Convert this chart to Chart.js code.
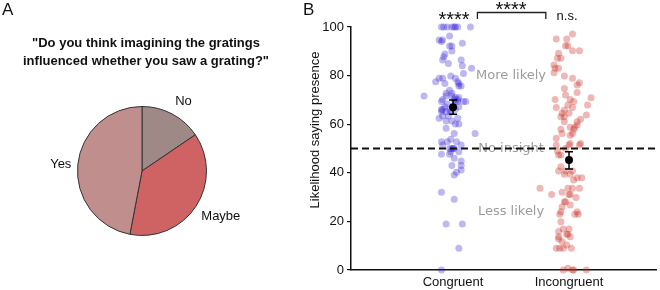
<!DOCTYPE html>
<html>
<head>
<meta charset="utf-8">
<script src="https://cdn.jsdelivr.net/npm/chart.js@4.4.1/dist/chart.umd.min.js"></script>
<style>
    html, body { margin: 0; padding: 0; background: #fff; }
    #wrap { position: relative; width: 660px; height: 290px; }
    #pieBox { position: absolute; left: 0; top: 0; width: 290px; height: 290px; }
    #dotBox { position: absolute; left: 290px; top: 0; width: 370px; height: 290px; }
</style>
</head>
<body>
<div id="wrap">
    <div id="pieBox"><canvas id="pieChart"></canvas></div>
    <div id="dotBox"><canvas id="dotChart"></canvas></div>
</div>
<script>
/* DATA */
const questionLines = ["\"Do you think imagining the gratings", "influenced whether you saw a grating?\""];
const answerLabels = ["No", "Maybe", "Yes"];
const answerShares = [15.5, 37.5, 47];

const conditionNames = ["Congruent", "Incongruent"];
const yTicks = [0, 20, 40, 60, 80, 100];

const congruentLikelihood = [
    100, 100, 100, 100, 100, 100, 100, 100,
    96.3, 94.6, 94.6, 94, 93.3, 92.2, 92.2, 90.1, 88.9, 87.8, 86.4, 86.4, 85, 84.1, 83, 80.9, 79.8,
    78.9, 78.9, 78.9, 77.5, 77.5, 76.8, 76.8, 75.7, 75.7, 74, 72.7, 72.7, 71.6, 71.6, 71.6, 71, 71,
    70.2, 70.2, 70.2, 69.3, 69.3, 69.3, 69.3, 69.3, 68.3, 67.2, 67.2, 66.1, 66.1, 66.1, 66.1,
    65.1, 65.1, 65.1, 63.4, 63.4, 62.4, 62.4, 61.3, 61.3, 60.1, 60.1, 58.3, 56.2, 56.2, 53.8,
    52.8, 52.8, 52.8, 51.4, 51.4, 50, 50, 50, 50, 48.7, 48.7, 47.6, 47.6, 46, 44.9, 43, 43, 41.2, 40.2, 39.1,
    32, 29.1, 18.9, 18.9, 8.9, 0
];
const congruentJitter = [
    -0.10, -0.08, -0.05, -0.01, 0.01, 0.02, 0.04, 0.15,
    -0.03, -0.12, -0.09, -0.10, 0.08, -0.03, -0.01, -0.01, -0.07, -0.08, -0.09, 0.07, -0.04, 0.08, 0.16, 0.09, -0.02,
    -0.12, -0.09, 0.02, -0.15, 0.04, -0.07, 0.05, 0.05, 0.07, -0.03, -0.06, -0.01, -0.25, -0.06, -0.01, 0.02, 0.05,
    -0.09, 0.01, 0.04, -0.10, 0.02, 0.04, 0.09, 0.11, -0.05, -0.07, 0.05, -0.10, -0.09, -0.03, 0.02,
    -0.10, -0.06, -0.02, -0.09, -0.04, -0.12, 0.04, -0.06, -0.01, 0.02, 0.05, -0.06, 0.01, 0.19, -0.02,
    -0.10, -0.05, 0.03, -0.09, 0.07, -0.03, -0.01, 0.00, 0.01, -0.02, 0.05, -0.10, -0.03, 0.01, 0.07, -0.01, 0.07, 0.07, 0.03, 0.01,
    -0.10, 0.01, -0.06, 0.08, 0.05, -0.10
];

const incongruentLikelihood = [
    97.1, 95.1, 95.1, 92.3, 92.3, 90.2, 90.2, 89.2, 87.1, 87.1, 84.4, 83, 83, 81.2, 79.8, 78.9, 77.1, 76.1, 74.7, 73, 72, 70.9,
    70.2, 70.2, 69.3, 67.9, 67.9, 66.9, 66.9, 65.8, 64.5, 64.5, 63.8, 63.1, 63.1, 62, 61, 61, 59.7, 58.7, 58.7, 57.9, 57.9, 56.2, 56.2, 55.5, 54.2, 52.1, 52.1,
    51.4, 51.4, 51.4, 50, 49, 47.3, 47.3, 42.5, 40.7, 40.7, 40.7, 39.4, 39.4, 38, 38, 37, 33.6, 33.6, 33.6, 33.6, 32, 31.1, 31.1, 31.1, 29.8,
    28.1, 28.1, 26.7, 26, 24, 24, 22.9, 22.9, 22.9, 19.9, 16.9, 16.9, 15.8, 14.7, 14.7, 13.7, 13.7, 12.8, 11.7, 10.3, 8.9, 8.9, 8.9, 8.9, 0.7, 0, 0, 0, 0
];
const incongruentJitter = [
    0.03, -0.11, -0.02, -0.03, -0.01, 0.03, 0.09, -0.09, -0.10, -0.07, -0.13, -0.12, -0.09, -0.13, -0.04, 0.03, 0.09, 0.07, -0.04, 0.07, -0.03, 0.19,
    -0.12, 0.01, 0.04, -0.01, 0.16, -0.11, 0.03, -0.04, -0.06, 0, 0.15, -0.07, -0.04, 0.10, -0.04, 0.07, 0.07, 0.01, 0.05, -0.07, 0.04, -0.06, 0.03, 0.01, -0.11, 0.01, 0.10,
    -0.11, 0, 0.09, -0.03, -0.10, -0.09, -0.07, -0.07, -0.09, -0.03, 0.03, -0.04, 0.01, 0.07, 0.11, 0.04, -0.25, -0.01, 0.03, 0.09, -0.06, -0.15, 0, 0.01, 0.06,
    -0.04, -0.03, 0.01, -0.06, -0.07, 0.07, -0.08, 0.05, 0.08, -0.07, -0.05, 0, -0.09, -0.02, -0.01, -0.09, 0.01, -0.09, -0.06, -0.02, -0.11, -0.08, -0.05, 0.02, -0.01, -0.05, 0.03, 0.04, 0.15
];

const meanLikelihood = [67, 45.3];
const errorLow = [64.1, 41.6];
const errorHigh = [70, 48.7];

const chanceLevel = 50;
const regionLabels = ["More likely", "No insight", "Less likely"];
const regionLevels = [80, 50, 24];
const sigAboveCondition = ["****", "n.s."];
const sigBetween = "****";

const ARIAL = '"Liberation Sans", Arial, sans-serif';

/* PIE */
const pieText = {
    id: "pieText",
    afterDraw(chart) {
        const ctx = chart.ctx;
        const meta = chart.getDatasetMeta(0);

        ctx.save();
        ctx.fillStyle = "#111";

        ctx.font = "17px " + ARIAL;
        ctx.textAlign = "left";
        ctx.textBaseline = "alphabetic";
        ctx.fillText("A", 2, 15);

        ctx.font = "bold 13px " + ARIAL;
        ctx.textAlign = "center";
        ctx.textBaseline = "middle";
        questionLines.forEach((line, i) => {
            ctx.fillText(line, 146, 43 + i * 18);
        });

        ctx.font = "13px " + ARIAL;
        meta.data.forEach((arc, i) => {
            const mid = (arc.startAngle + arc.endAngle) / 2;
            const r = arc.outerRadius * 1.1;
            const x = arc.x + Math.cos(mid) * r;
            const y = arc.y + Math.sin(mid) * r;
            const s = Math.sin(mid);
            ctx.textAlign = Math.cos(mid) >= 0 ? "left" : "right";
            ctx.textBaseline = s < -0.5 ? "bottom" : (s > 0.5 ? "top" : "middle");
            ctx.fillText(answerLabels[i], x, y);
        });
        ctx.restore();
    }
};

new Chart(document.getElementById("pieChart"), {
    type: "pie",
    data: {
        labels: answerLabels,
        datasets: [{
            data: answerShares,
            backgroundColor: ["#9f8987", "#cf6262", "#c18e8e"],
            borderColor: "#333",
            borderWidth: 1
        }]
    },
    options: {
        responsive: true,
        maintainAspectRatio: false,
        animation: false,
        layout: { padding: { left: 77, right: 83, top: 106, bottom: 54 } },
        plugins: { legend: { display: false }, tooltip: { enabled: false } }
    },
    plugins: [pieText]
});

/* DOTS */
const congruentPoints = congruentLikelihood.map((v, i) => ({ x: 1 + congruentJitter[i], y: v }));
const incongruentPoints = incongruentLikelihood.map((v, i) => ({ x: 2 + incongruentJitter[i], y: v }));
const meanPoints = meanLikelihood.map((v, i) => ({ x: i + 1, y: v }));

const annotate = {
    id: "annotate",
    beforeDatasetsDraw(chart) {
        const { ctx, scales: { x, y } } = chart;
        ctx.save();
        ctx.font = '13px "DejaVu Sans", sans-serif';
        ctx.fillStyle = "#9c9c9c";
        ctx.textAlign = "center";
        ctx.textBaseline = "middle";
        regionLabels.forEach((t, i) => {
            ctx.fillText(t, x.getPixelForValue(1.5), y.getPixelForValue(regionLevels[i]));
        });
        ctx.restore();
    },
    afterDatasetsDraw(chart) {
        const { ctx, chartArea, scales: { x, y } } = chart;
        ctx.save();

        const yc = y.getPixelForValue(chanceLevel);
        ctx.strokeStyle = "#111";
        ctx.lineWidth = 2;
        ctx.setLineDash([7, 4]);
        ctx.beginPath();
        ctx.moveTo(chartArea.left, yc);
        ctx.lineTo(chartArea.right, yc);
        ctx.stroke();
        ctx.setLineDash([]);

        ctx.strokeStyle = "#000";
        ctx.lineWidth = 1.5;
        meanLikelihood.forEach((m, i) => {
            const px = x.getPixelForValue(i + 1);
            const lo = y.getPixelForValue(errorLow[i]);
            const hi = y.getPixelForValue(errorHigh[i]);
            ctx.beginPath();
            ctx.moveTo(px, lo); ctx.lineTo(px, hi);
            ctx.moveTo(px - 4, lo); ctx.lineTo(px + 4, lo);
            ctx.moveTo(px - 4, hi); ctx.lineTo(px + 4, hi);
            ctx.stroke();
        });
        ctx.restore();
    },
    afterDraw(chart) {
        const { ctx, chartArea, scales: { x } } = chart;
        const top = chartArea.top;
        ctx.save();
        ctx.fillStyle = "#111";

        ctx.font = "17px " + ARIAL;
        ctx.textAlign = "left";
        ctx.textBaseline = "alphabetic";
        ctx.fillText("B", 13, 15);

        ctx.textAlign = "center";
        ctx.font = "20px " + ARIAL;
        ctx.fillText(sigAboveCondition[0], x.getPixelForValue(1) + 1, top - 1);
        ctx.fillText(sigBetween, x.getPixelForValue(1.5), top - 11);

        ctx.font = "13px " + ARIAL;
        ctx.fillText(sigAboveCondition[1], x.getPixelForValue(2) - 2, top - 7.5);

        const b1 = x.getPixelForValue(1.21);
        const b2 = x.getPixelForValue(1.8);
        ctx.strokeStyle = "#222";
        ctx.lineWidth = 1.3;
        ctx.beginPath();
        ctx.moveTo(b1, top - 8);
        ctx.lineTo(b1, top - 14.5);
        ctx.lineTo(b2, top - 14.5);
        ctx.lineTo(b2, top - 8);
        ctx.stroke();

        ctx.font = "13px " + ARIAL;
        ctx.translate(25, 130);
        ctx.rotate(-Math.PI / 2);
        ctx.textBaseline = "middle";
        ctx.fillText("Likelihood saying presence", 0, 0);
        ctx.restore();
    }
};

new Chart(document.getElementById("dotChart"), {
    type: "scatter",
    data: {
        datasets: [
            {
                data: meanPoints,
                backgroundColor: "#000",
                pointRadius: 4,
                borderWidth: 0,
                clip: false
            },
            {
                data: congruentPoints,
                backgroundColor: "rgba(40, 20, 210, 0.3)",
                pointRadius: 3.5,
                borderWidth: 0,
                clip: false
            },
            {
                data: incongruentPoints,
                backgroundColor: "rgba(200, 40, 30, 0.33)",
                pointRadius: 3.5,
                borderWidth: 0,
                clip: false
            }
        ]
    },
    options: {
        responsive: true,
        maintainAspectRatio: false,
        animation: false,
        layout: { padding: { top: 27, right: 0, bottom: 0, left: 0 } },
        plugins: { legend: { display: false }, tooltip: { enabled: false } },
        scales: {
            x: {
                type: "linear",
                min: 0.12,
                max: 2.75,
                afterBuildTicks: s => { s.ticks = conditionNames.map((n, i) => ({ value: i + 1 })); },
                afterFit: s => { s.height = 20; },
                ticks: {
                    callback: v => conditionNames[Math.round(v) - 1],
                    font: { family: ARIAL, size: 13 },
                    color: "#111",
                    padding: 5,
                    maxRotation: 0
                },
                grid: { display: false, drawTicks: false },
                border: { display: true, color: "#111", width: 1.5 }
            },
            y: {
                min: 0,
                max: 100,
                afterBuildTicks: s => { s.ticks = yTicks.map(v => ({ value: v })); },
                afterFit: s => { s.width = 61; },
                ticks: {
                    font: { family: ARIAL, size: 13 },
                    color: "#111",
                    padding: 3
                },
                grid: { display: true, drawOnChartArea: false, drawTicks: true, tickLength: 4, color: "#111", lineWidth: 1.2 },
                border: { display: true, color: "#111", width: 1.5 }
            }
        }
    },
    plugins: [annotate]
});
</script>
</body>
</html>
